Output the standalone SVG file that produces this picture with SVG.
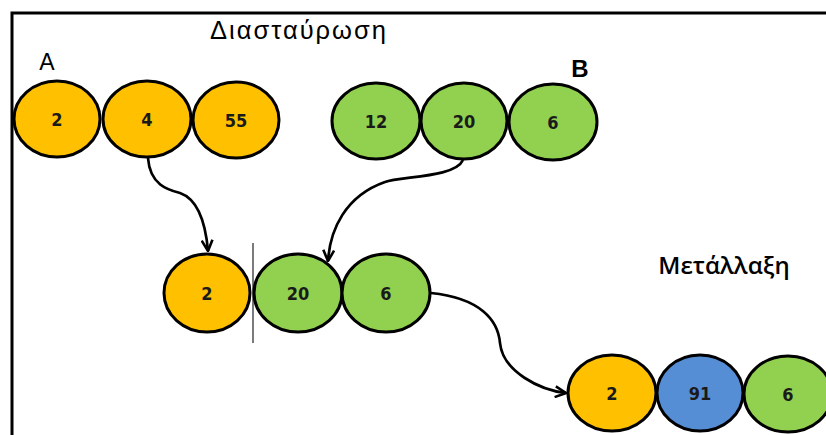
<svg xmlns="http://www.w3.org/2000/svg" width="826" height="435" viewBox="0 0 826 435">
<defs>
<style>
.o{fill:#FFC000;stroke:#000;stroke-width:3}
.g{fill:#92D050;stroke:#000;stroke-width:3}
.b{fill:#558ED5;stroke:#000;stroke-width:3}
.n{font-family:"DejaVu Sans Condensed","Liberation Sans Narrow","Liberation Sans",sans-serif;font-stretch:condensed;font-size:18px;font-weight:bold;text-anchor:middle;fill:#1a1a1a}
.lbl{font-family:"Liberation Sans",Arial,sans-serif;fill:#000}
.conn{fill:none;stroke:#000;stroke-width:2.7}
</style>
<marker id="arr" viewBox="0 0 12 12" refX="11" refY="6" markerWidth="13" markerHeight="13" markerUnits="userSpaceOnUse" orient="auto">
<path d="M1,1 L11,6 L1,11" fill="none" stroke="#000" stroke-width="2.4"/>
</marker>
</defs>
<rect width="826" height="435" fill="#fff"/>
<path d="M12,435 V13 H826" fill="none" stroke="#000" stroke-width="3"/>
<text class="lbl" x="299" y="39" font-size="25.5" text-anchor="middle" letter-spacing="2">Διασταύρωση</text>
<text class="lbl" x="47" y="70" font-size="23" text-anchor="middle">A</text>
<text class="lbl" x="580" y="77" font-size="24" text-anchor="middle" font-weight="bold">B</text>
<text x="724" y="274" font-family="'Open Sans','Noto Sans',sans-serif" font-size="24" font-weight="600" text-anchor="middle" fill="#000">Μετάλλαξη</text>
<g id="connectors">
<path class="conn" d="M148,158 C150,185 168,190 180,193 C200,200 206,228 208,251" marker-end="url(#arr)"/>
<path class="conn" d="M463,160 C455,178 400,176 385,182 C345,196 330,230 328,261" marker-end="url(#arr)"/>
<path class="conn" d="M431,293 C480,298 498,320 500,343 C503,372 540,390 566,393" marker-end="url(#arr)"/>
<line x1="253" y1="243" x2="253" y2="343" stroke="#333" stroke-width="1.3"/>
</g>
<g id="a1"><ellipse class="o" cx="57" cy="119" rx="43" ry="38"/><text class="n" x="57" y="126">2</text></g>
<g id="a2"><ellipse class="o" cx="147" cy="119" rx="44" ry="38"/><text class="n" x="147" y="126">4</text></g>
<g id="a3"><ellipse class="o" cx="236" cy="120" rx="43" ry="38"/><text class="n" x="236" y="127">55</text></g>
<g id="b1"><ellipse class="g" cx="376" cy="121" rx="44" ry="38"/><text class="n" x="376" y="128">12</text></g>
<g id="b2"><ellipse class="g" cx="464" cy="121" rx="43" ry="38"/><text class="n" x="464" y="128">20</text></g>
<g id="b3"><ellipse class="g" cx="553" cy="122" rx="44" ry="38"/><text class="n" x="553" y="129">6</text></g>
<g id="c1"><ellipse class="o" cx="207" cy="293" rx="43" ry="39"/><text class="n" x="207" y="300">2</text></g>
<g id="c2"><ellipse class="g" cx="298" cy="293" rx="44" ry="39"/><text class="n" x="298" y="300">20</text></g>
<g id="c3"><ellipse class="g" cx="386" cy="293" rx="44" ry="39"/><text class="n" x="386" y="300">6</text></g>
<g id="d1"><ellipse class="o" cx="612" cy="393" rx="44" ry="38"/><text class="n" x="612" y="400">2</text></g>
<g id="d2"><ellipse class="b" cx="700" cy="393" rx="43" ry="38"/><text class="n" x="700" y="400">91</text></g>
<g id="d3"><ellipse class="g" cx="788" cy="394" rx="44" ry="38"/><text class="n" x="788" y="401">6</text></g>
</svg>
